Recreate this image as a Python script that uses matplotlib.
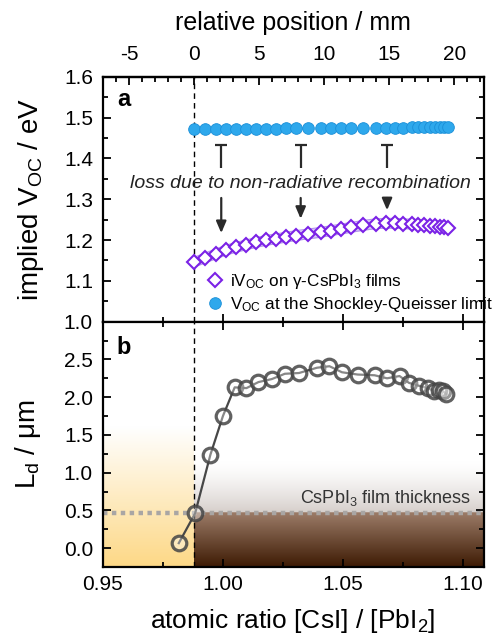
import numpy as np
import matplotlib
matplotlib.use('Agg')
import matplotlib.pyplot as plt
from matplotlib.ticker import MultipleLocator, FormatStrFormatter, FixedLocator
from matplotlib.lines import Line2D
from matplotlib.colors import to_rgb

plt.rcParams['font.family'] = ['Liberation Sans', 'DejaVu Sans']
plt.rcParams['mathtext.fontset'] = 'custom'
plt.rcParams['mathtext.rm'] = 'Liberation Sans'
plt.rcParams['mathtext.it'] = 'Liberation Sans:italic'
plt.rcParams['mathtext.bf'] = 'Liberation Sans:bold'
plt.rcParams['axes.unicode_minus'] = False

# ---------------- data ----------------
# panel a: implied Voc and SQ-limit Voc vs atomic ratio
ratio_a = [0.9882, 0.9926, 0.9971, 1.0012, 1.0054, 1.0096, 1.0138, 1.0180, 1.0222,
           1.0264, 1.0305, 1.0357, 1.0410, 1.0451, 1.0493, 1.0535, 1.0586, 1.0639,
           1.0680, 1.0718, 1.0753, 1.0787, 1.0815, 1.0840, 1.0864, 1.0885, 1.0905,
           1.0923, 1.0940]
ivoc = [1.146, 1.156, 1.166, 1.175, 1.182, 1.188, 1.194, 1.199, 1.203,
        1.207, 1.211, 1.215, 1.219, 1.223, 1.227, 1.231, 1.236, 1.240,
        1.241, 1.241, 1.240, 1.239, 1.238, 1.236, 1.235, 1.234, 1.233,
        1.232, 1.229]
ivoc_err = [0.012] * len(ivoc)
voc_sq = [1.473, 1.473, 1.473, 1.473, 1.473, 1.473, 1.473, 1.473, 1.473,
          1.474, 1.474, 1.474, 1.474, 1.474, 1.474, 1.474, 1.474, 1.475,
          1.475, 1.475, 1.475, 1.476, 1.476, 1.476, 1.477, 1.477, 1.477,
          1.478, 1.478]

# panel b: diffusion length vs atomic ratio
ratio_b = [0.9817, 0.9885, 0.9949, 1.0001, 1.0050, 1.0099, 1.0149, 1.0205,
           1.0259, 1.0318, 1.0393, 1.0445, 1.0497, 1.0562, 1.0633, 1.0685,
           1.0737, 1.0776, 1.0819, 1.0854, 1.0882, 1.0903, 1.0918, 1.0932]
ld = [0.066, 0.46, 1.24, 1.75, 2.13, 2.12, 2.20, 2.24,
      2.31, 2.32, 2.39, 2.41, 2.33, 2.30, 2.29, 2.25,
      2.28, 2.19, 2.15, 2.12, 2.08, 2.10, 2.08, 2.04]

film_thickness = 0.47
boundary_ratio = 0.9882          # 0 mm on the relative-position axis
mm_per_ratio = 184.6
mm_ticks = [-5, 0, 5, 10, 15, 20]

# loss arrows (annotation)
arrow_x = [0.9994, 1.0325, 1.0685]
arrow_cap_top = 1.432
arrow_cap_bottom = 1.377
arrow_low_start = 1.303
arrow_tips = [1.217, 1.252, 1.273]

xlim = (0.95, 1.1087)

# ---------------- figure ----------------
fig = plt.figure(figsize=(4.95, 6.35), dpi=100)
ax1 = fig.add_axes([0.2075, 0.4934, 0.7693, 0.3858])
ax2 = fig.add_axes([0.2075, 0.1071, 0.7693, 0.3863])

spine_lw = 1.6
for ax in (ax1, ax2):
    for s in ax.spines.values():
        s.set_linewidth(spine_lw)
    ax.set_xlim(*xlim)
    ax.xaxis.set_major_locator(MultipleLocator(0.05))
    ax.xaxis.set_minor_locator(MultipleLocator(0.025))
    ax.tick_params(which='both', direction='in', right=True, top=False,
                   width=1.3, labelsize=15)
    ax.tick_params(which='major', length=6)
    ax.tick_params(which='minor', length=3.5)
    ax.tick_params(axis='y', which='both', pad=7)
    ax.tick_params(axis='x', which='both', pad=6)
    ax.axvline(boundary_ratio, color='black', lw=1.0, dashes=(4, 3), zorder=1)

# ----- panel a -----
ax1.set_ylim(1.0, 1.6)
ax1.yaxis.set_major_locator(MultipleLocator(0.1))
ax1.yaxis.set_minor_locator(MultipleLocator(0.05))
ax1.yaxis.set_major_formatter(FormatStrFormatter('%.1f'))
ax1.tick_params(axis='x', which='both', labelbottom=False, bottom=True)

lo = np.array(ivoc) - np.array(ivoc_err)
hi = np.array(ivoc) + np.array(ivoc_err)
ax1.fill_between(ratio_a, lo, hi, color='#CDB8F2', alpha=0.75, lw=0, zorder=2)
ax1.plot(ratio_a, lo, color='#B394EC', lw=0.8, zorder=2)
ax1.plot(ratio_a, hi, color='#B394EC', lw=0.8, zorder=2)
ax1.plot(ratio_a, ivoc, ls='none', marker='D', ms=6.8, mfc='white',
         mec='#7B22E6', mew=1.5, zorder=4)
ax1.plot(ratio_a, voc_sq, ls='none', marker='o', ms=8.4, mfc='#2EA8EC',
         mec='#1A8FD8', mew=0.6, zorder=4)

for xa, tip in zip(arrow_x, arrow_tips):
    ax1.plot([xa, xa], [arrow_cap_top, arrow_cap_bottom], color='#2a2a2a',
             lw=1.6, zorder=3, solid_capstyle='butt')
    ax1.plot([xa], [arrow_cap_top], marker='_', ms=8, mew=1.6,
             color='#2a2a2a', zorder=3)
    ax1.annotate('', xy=(xa, tip), xytext=(xa, arrow_low_start),
                 arrowprops=dict(arrowstyle='-|>,head_length=0.7,head_width=0.3',
                                 color='#2a2a2a', lw=1.6, shrinkA=0, shrinkB=0),
                 zorder=3)

ax1.text(1.0326, 1.339, 'loss due to non-radiative recombination',
         fontsize=14, style='italic', ha='center', va='center', color='#222222',
         zorder=5)
ax1.text(0.056, 0.905, 'a', transform=ax1.transAxes, fontsize=17,
         fontweight='bold', ha='center', va='center')
ax1.set_ylabel('implied V$_{\\mathrm{OC}}$ / eV', fontsize=20, labelpad=13)

handles = [Line2D([], [], ls='none', marker='D', ms=6.8, mfc='white',
                  mec='#7B22E6', mew=1.5),
           Line2D([], [], ls='none', marker='o', ms=8.4, mfc='#2EA8EC',
                  mec='#1A8FD8', mew=0.6)]
labels = ['iV$_{\\mathrm{OC}}$ on γ-CsPbI$_3$ films',
          'V$_{\\mathrm{OC}}$ at the Shockley-Queisser limit']
ax1.legend(handles, labels, loc='upper left', bbox_to_anchor=(0.255, 0.232),
           frameon=False, fontsize=12.3, handletextpad=0.35, labelspacing=0.25,
           borderaxespad=0, handlelength=1.0)

sec = ax1.secondary_xaxis('top',
                          functions=(lambda r: (r - boundary_ratio) * mm_per_ratio,
                                     lambda m: m / mm_per_ratio + boundary_ratio))
sec.xaxis.set_major_locator(FixedLocator(mm_ticks))
sec.xaxis.set_minor_locator(MultipleLocator(1))
sec.tick_params(which='both', direction='in', width=1.3, labelsize=15, pad=9)
sec.tick_params(which='major', length=6)
sec.tick_params(which='minor', length=3.5)
sec.spines['top'].set_linewidth(spine_lw)
sec.set_xlabel('relative position / mm', fontsize=18, labelpad=11)

# ----- panel b -----
ymin_b, ymax_b = -0.25, 3.0
ax2.set_ylim(ymin_b, ymax_b)
ax2.set_yticks([0.0, 0.5, 1.0, 1.5, 2.0, 2.5])
ax2.yaxis.set_minor_locator(MultipleLocator(0.25))
ax2.yaxis.set_major_formatter(FormatStrFormatter('%.1f'))
ax2.tick_params(axis='x', which='both', top=True)

ny = 400
yy = np.linspace(ymax_b, ymin_b, ny)
white = np.array([1.0, 1.0, 1.0])
# left (yellow) gradient
t = np.clip((1.6 - yy) / (1.6 - ymin_b), 0, 1)
cy = np.array(to_rgb('#FDD886'))
left = (1 - t)[:, None] * white + t[:, None] * cy
ax2.imshow(np.repeat(left[:, None, :], 2, axis=1),
           extent=(xlim[0], boundary_ratio, ymin_b, ymax_b), aspect='auto',
           interpolation='bilinear', zorder=0)
# right (brown) gradient
right = np.ones((ny, 3))
above = yy >= film_thickness
t1 = np.clip((1.15 - yy) / (1.15 - film_thickness), 0, 1) ** 1.4
cg = np.array(to_rgb('#D6CFCB'))
right[above] = (1 - t1[above])[:, None] * white + t1[above][:, None] * cg
t2 = np.clip((film_thickness - yy) / (film_thickness - ymin_b), 0, 1)
ctop = np.array(to_rgb('#9C7C68'))
cbot = np.array(to_rgb('#3E1B04'))
right[~above] = (1 - t2[~above])[:, None] * ctop + t2[~above][:, None] * cbot
ax2.imshow(np.repeat(right[:, None, :], 2, axis=1),
           extent=(boundary_ratio, xlim[1], ymin_b, ymax_b), aspect='auto',
           interpolation='bilinear', zorder=0)
ax2.set_xlim(*xlim)
ax2.set_ylim(ymin_b, ymax_b)

ax2.axhline(film_thickness, color='#A9A6A4', lw=3.2, dashes=(1, 1), zorder=1)
ax2.text(1.1035, 0.66, 'CsPbI$_3$ film thickness', fontsize=13, ha='right',
         va='center', color='#333333', zorder=5)

ax2.plot(ratio_b, ld, color='#474747', lw=1.6, zorder=3)
ax2.plot(ratio_b, ld, ls='none', marker='o', ms=10.5, mfc=(1, 1, 1, 0.35),
         mec=(0.27, 0.27, 0.27, 0.85), mew=2.3, zorder=4)

ax2.text(0.056, 0.893, 'b', transform=ax2.transAxes, fontsize=17,
         fontweight='bold', ha='center', va='center')
ax2.set_ylabel('L$_{\\mathrm{d}}$ / μm', fontsize=20, labelpad=15)
ax2.set_xlabel('atomic ratio [CsI] / [PbI$_2$]', fontsize=19, labelpad=9)

fig.savefig('out.png', dpi=100)
